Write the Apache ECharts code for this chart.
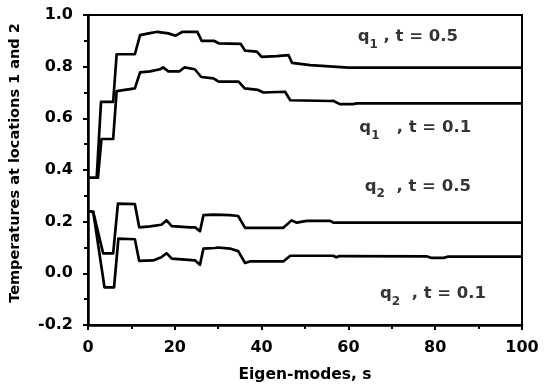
<!DOCTYPE html>
<html>
<head>
<meta charset="utf-8">
<script src="https://cdn.jsdelivr.net/npm/echarts@6/dist/echarts.min.js"></script>
<style>
html,body{margin:0;padding:0;background:#fff;}
#chart{width:546px;height:390px;}
</style>
</head>
<body>
<div id="chart"></div>
<script>
// ---- data ----
const xTicks = [0, 20, 40, 60, 80, 100];
const yTicks = [-0.2, 0.0, 0.2, 0.4, 0.6, 0.8, 1.0];

const q1_t05 = [[0,0.37],[2,0.37],[3,0.664],[5.8,0.664],[6.6,0.848],[10.8,0.848],[12,0.922],[14.3,0.93],[16,0.935],[18.5,0.929],[20.2,0.92],[21.8,0.935],[25.2,0.935],[26.2,0.90],[29,0.90],[30.2,0.89],[35.2,0.888],[36.2,0.862],[38.9,0.858],[40,0.838],[43.5,0.841],[46.2,0.845],[47,0.815],[51.2,0.806],[56.5,0.80],[60,0.796],[100,0.796]];

const q1_t01 = [[0,0.37],[2.3,0.37],[3.1,0.52],[5.8,0.52],[6.6,0.705],[10.8,0.716],[12,0.778],[14.3,0.782],[16.6,0.79],[17.3,0.797],[18.5,0.782],[21.1,0.782],[22.2,0.797],[24.6,0.79],[26.1,0.76],[28.9,0.755],[30.1,0.742],[34.7,0.742],[36.1,0.716],[39.2,0.71],[40.4,0.70],[45.4,0.703],[46.6,0.67],[55.8,0.667],[56.5,0.668],[58,0.655],[61,0.655],[62,0.658],[100,0.658]];

const q2_t05 = [[0,0.24],[1.2,0.238],[3.5,0.077],[5.8,0.077],[6.9,0.27],[10.8,0.268],[11.8,0.178],[14.3,0.182],[16.9,0.188],[18.1,0.205],[19.3,0.183],[23.5,0.178],[24.7,0.178],[25.8,0.163],[26.6,0.225],[28.9,0.227],[32.7,0.225],[34.6,0.222],[36.2,0.176],[45,0.176],[46.9,0.205],[48.1,0.196],[50.4,0.203],[55.8,0.203],[56.6,0.196],[100,0.196]];

const q2_t01 = [[0,0.24],[1.2,0.238],[3.8,-0.054],[6,-0.054],[7,0.134],[10.8,0.132],[11.8,0.048],[15,0.05],[16.9,0.062],[18.1,0.078],[19.3,0.057],[24.7,0.05],[25.8,0.033],[26.6,0.096],[29.2,0.098],[30,0.1],[32.7,0.096],[34.6,0.086],[36.2,0.04],[37.3,0.046],[45,0.046],[46.6,0.068],[56.5,0.068],[57.2,0.062],[58,0.067],[78,0.066],[79,0.06],[82,0.06],[83,0.065],[100,0.065]];

// annotation labels: [variable, subscript, suffix] and their anchor in data coordinates
const annoText = [['q','1',' , t = 0.5'],['q','1','   , t = 0.1'],['q','2','  , t = 0.5'],['q','2','  , t = 0.1']];
const annoAt = [[73.7,0.915],[75.4,0.562],[76,0.337],[79.5,-0.078]];

const xTitle = 'Eigen-modes, s';
const yTitle = 'Temperatures at locations 1 and 2';

// ---- chart ----
const FONT = 'DejaVu Sans';
const chart = echarts.init(document.getElementById('chart'), null, {renderer:'canvas'});

function lineSeries(d){
  return {type:'line', data:d, showSymbol:false, symbol:'none',
    lineStyle:{color:'#000', width:2.7, join:'round'}, animation:false, z:3};
}

const option = {
  animation:false,
  backgroundColor:'#fff',
  grid:{left:88, right:24, top:15, bottom:65, show:true, borderColor:'#000', borderWidth:2},
  xAxis:{
    type:'value', min:xTicks[0], max:xTicks[xTicks.length-1], interval:xTicks[1]-xTicks[0],
    axisLine:{show:true, onZero:false, lineStyle:{color:'#000', width:2.5}},
    axisTick:{show:true, inside:false, length:5, lineStyle:{color:'#000', width:2}},
    minorTick:{show:true, splitNumber:2, length:4, lineStyle:{color:'#000', width:2}},
    splitLine:{show:false},
    axisLabel:{color:'#000', fontFamily:FONT, fontWeight:'bold', fontSize:16, margin:15},
    name:xTitle, nameLocation:'middle', nameGap:42,
    nameTextStyle:{color:'#000', fontFamily:FONT, fontWeight:'bold', fontSize:15.5}
  },
  yAxis:{
    type:'value', min:yTicks[0], max:yTicks[yTicks.length-1], interval:0.2,
    axisLine:{show:true, onZero:false, lineStyle:{color:'#000', width:2.5}},
    axisTick:{show:true, inside:false, length:5, lineStyle:{color:'#000', width:2}},
    minorTick:{show:true, splitNumber:2, length:4, lineStyle:{color:'#000', width:2}},
    splitLine:{show:false},
    axisLabel:{color:'#000', fontFamily:FONT, fontWeight:'bold', fontSize:16, margin:15,
      formatter:v=>v.toFixed(1)},
    name:yTitle, nameLocation:'middle', nameGap:65, nameRotate:90,
    nameTextStyle:{color:'#000', fontFamily:FONT, fontWeight:'bold', fontSize:14.5, padding:[0,0,0,14]}
  },
  series:[
    lineSeries(q1_t05), lineSeries(q1_t01), lineSeries(q2_t05), lineSeries(q2_t01),
    {
      type:'scatter', symbolSize:0, z:5, silent:true,
      data:annoAt.map((p,i)=>({value:p, name:i})),
      label:{show:true, position:'inside', color:'#000',
        formatter:(p)=>{const t=annoText[p.dataIndex]; return '{a|'+t[0]+'}{b|'+t[1]+'}{a|'+t[2]+'}';},
        rich:{
          a:{fontFamily:FONT, fontWeight:'bold', fontSize:16.5, color:'#000', lineHeight:28},
          b:{fontFamily:FONT, fontWeight:'bold', fontSize:12, color:'#000', lineHeight:28, verticalAlign:'bottom'}
        }
      }
    }
  ]
};
chart.setOption(option);
</script>
</body>
</html>
